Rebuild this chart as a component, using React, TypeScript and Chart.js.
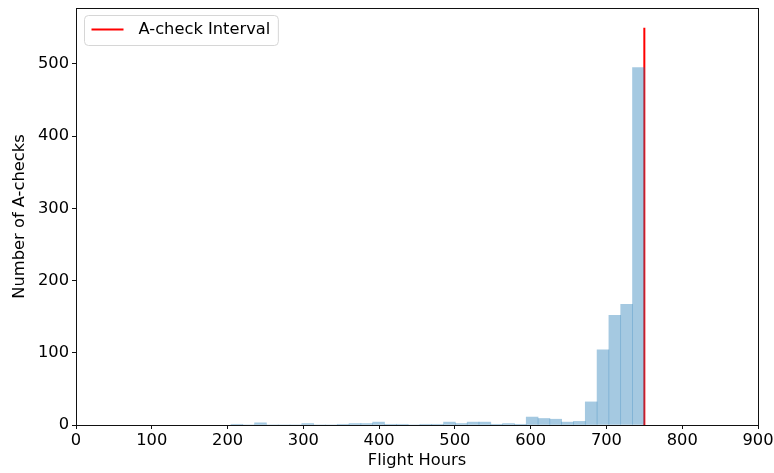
import React, { useEffect, useRef } from "react";
import { Chart, registerables } from "chart.js";

Chart.register(...registerables);

// Histogram of flight hours at A-check (35 bins between binStart and binEnd)
const binStart = 204.5;
const binEnd = 750;
const binCounts = [
  1, 0, 3, 0, 0, 0, 2, 0, 0, 1,
  2, 2, 4, 1, 1, 0, 1, 1, 4, 2,
  4, 4, 1, 2, 1, 11, 9, 8, 4, 5,
  32, 104, 152, 167, 495,
];
const intervalX = [750, 750];
const intervalY = [0, 550];
const xTicks = [0, 100, 200, 300, 400, 500, 600, 700, 800, 900];
const yTicks = [0, 100, 200, 300, 400, 500];
const legendLabel = "A-check Interval";
const xTitle = "Flight Hours";
const yTitle = "Number of A-checks";

const FONT = "'DejaVu Sans', sans-serif";
const FS = 16.3;

export default function App() {
  const ref = useRef<HTMLCanvasElement | null>(null);

  useEffect(() => {
    const canvas = ref.current;
    if (!canvas) return;
    const binW = (binEnd - binStart) / binCounts.length;
    const barData = binCounts.map((c, i) => ({ x: binStart + binW * (i + 0.5), y: c }));
    const lineData = intervalX.map((x, i) => ({ x, y: intervalY[i] }));

    const framePlugin = {
      id: "frameAndLegend",
      afterDraw(chart: any) {
        const { ctx, chartArea } = chart;
        ctx.save();
        ctx.strokeStyle = "#111";
        ctx.lineWidth = 1;
        ctx.strokeRect(
          Math.round(chartArea.left) + 0.5,
          Math.round(chartArea.top) + 0.5,
          Math.round(chartArea.right - chartArea.left),
          Math.round(chartArea.bottom - chartArea.top)
        );
        // legend box
        const lx = Math.round(chartArea.left) + 8.5;
        const ly = Math.round(chartArea.top) + 7.5;
        ctx.font = `${FS}px ${FONT}`;
        const tw = ctx.measureText(legendLabel).width;
        const w = 54 + tw + 8;
        const h = 30;
        const r = 4;
        ctx.beginPath();
        ctx.moveTo(lx + r, ly);
        ctx.lineTo(lx + w - r, ly);
        ctx.arcTo(lx + w, ly, lx + w, ly + r, r);
        ctx.lineTo(lx + w, ly + h - r);
        ctx.arcTo(lx + w, ly + h, lx + w - r, ly + h, r);
        ctx.lineTo(lx + r, ly + h);
        ctx.arcTo(lx, ly + h, lx, ly + h - r, r);
        ctx.lineTo(lx, ly + r);
        ctx.arcTo(lx, ly, lx + r, ly, r);
        ctx.closePath();
        ctx.fillStyle = "rgba(255,255,255,0.8)";
        ctx.fill();
        ctx.strokeStyle = "#d6d6d6";
        ctx.lineWidth = 1;
        ctx.stroke();
        ctx.strokeStyle = "#ff0000";
        ctx.lineWidth = 2;
        ctx.beginPath();
        ctx.moveTo(lx + 7, ly + 14);
        ctx.lineTo(lx + 39, ly + 14);
        ctx.stroke();
        ctx.fillStyle = "#000";
        ctx.textBaseline = "middle";
        ctx.textAlign = "left";
        ctx.fillText(legendLabel, lx + 54, ly + 14);
        ctx.restore();
      },
    };

    const chart = new Chart(canvas, {
      type: "bar",
      data: {
        datasets: [
          {
            type: "bar",
            data: barData as any,
            backgroundColor: "rgba(31,119,180,0.4)",
            borderWidth: 0,
            barPercentage: 1,
            categoryPercentage: 1,
            grouped: false,
          } as any,
          {
            type: "line",
            data: lineData as any,
            borderColor: "#ff0000",
            borderWidth: 2,
            pointRadius: 0,
            fill: false,
          } as any,
        ],
      },
      options: {
        animation: false,
        responsive: false,
        layout: { padding: { left: 0, top: 8, right: 16, bottom: 0 } },
        plugins: { legend: { display: false }, tooltip: { enabled: false } },
        scales: {
          x: {
            type: "linear",
            min: 0,
            max: 900,
            offset: false,
            afterFit: (s: any) => {
              s.height = 48;
              s.paddingLeft = 0;
              s.paddingRight = 0;
            },
            afterBuildTicks: (s: any) => {
              s.ticks = xTicks.map((v) => ({ value: v }));
            },
            grid: {
              display: true,
              offset: false,
              drawOnChartArea: false,
              drawTicks: true,
              tickLength: 4,
              color: "#111",
            },
            border: { display: false },
            ticks: {
              color: "#000",
              font: { family: FONT, size: FS },
              padding: 2,
              maxRotation: 0,
            },
            title: {
              display: true,
              text: xTitle,
              color: "#000",
              font: { family: FONT, size: FS },
              padding: { top: 0, bottom: 2 },
            },
          },
          y: {
            type: "linear",
            min: 0,
            max: 577.5,
            afterFit: (s: any) => {
              s.width = 76;
              s.paddingTop = 0;
              s.paddingBottom = 0;
            },
            afterBuildTicks: (s: any) => {
              s.ticks = yTicks.map((v) => ({ value: v }));
            },
            grid: {
              display: true,
              offset: false,
              drawOnChartArea: false,
              drawTicks: true,
              tickLength: 4,
              color: "#111",
            },
            border: { display: false },
            ticks: {
              color: "#000",
              font: { family: FONT, size: FS },
              padding: 3,
            },
            title: {
              display: true,
              text: yTitle,
              color: "#000",
              font: { family: FONT, size: FS },
              padding: { top: 10, bottom: 0 },
            },
          },
        },
      },
      plugins: [framePlugin],
    } as any);

    return () => chart.destroy();
  }, []);

  return (
    <div style={{ position: "fixed", left: 0, top: 0, width: 774, height: 473, background: "#fff" }}>
      <canvas ref={ref} width={774} height={473} />
    </div>
  );
}
